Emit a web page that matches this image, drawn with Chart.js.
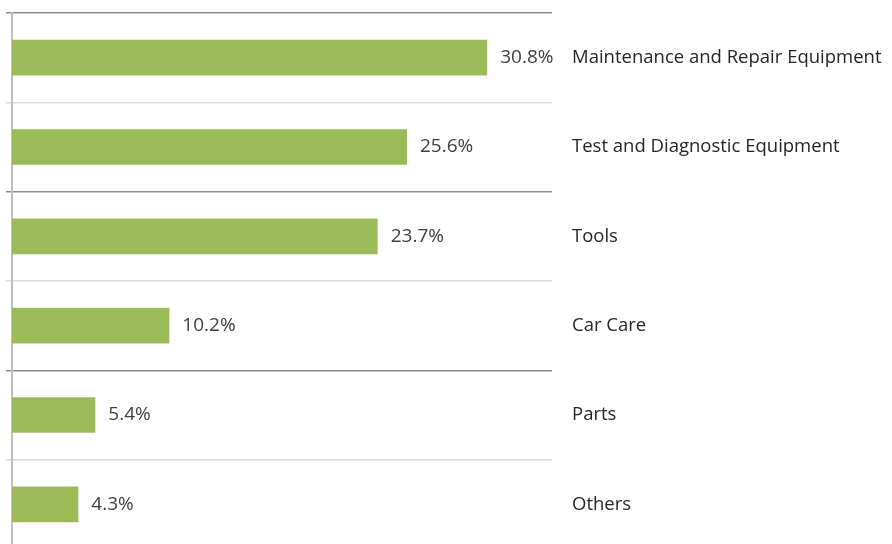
<!DOCTYPE html>
<html>
<head>
<meta charset="utf-8">
<script src="https://cdn.jsdelivr.net/npm/chart.js@4"></script>
<style>
  html, body { margin: 0; padding: 0; background: #fff; overflow: hidden; }
  #wrap { width: 892px; height: 544px; overflow: hidden; }
</style>
</head>
<body>
<div id="wrap"><canvas id="chart" width="892" height="560"></canvas></div>
<script>
// data
const categories = ['Maintenance and Repair Equipment', 'Test and Diagnostic Equipment', 'Tools', 'Car Care', 'Parts', 'Others'];
const shares = [30.8, 25.6, 23.7, 10.2, 5.4, 4.3];
const xMin = 0;
const xMax = 35;

const FONT = "'Open Sans', 'Liberation Sans', sans-serif";

// value labels just after each bar
const valueLabels = {
  id: 'valueLabels',
  afterDatasetsDraw(chart) {
    const ctx = chart.ctx;
    const meta = chart.getDatasetMeta(0);
    ctx.save();
    ctx.font = '19px ' + FONT;
    ctx.fillStyle = '#404040';
    ctx.textAlign = 'left';
    ctx.textBaseline = 'middle';
    meta.data.forEach((bar, i) => {
      ctx.fillText(shares[i].toFixed(1) + '%', bar.x + 13, bar.y);
    });
    ctx.restore();
  }
};

new Chart(document.getElementById('chart'), {
  type: 'bar',
  data: {
    labels: categories,
    datasets: [{
      data: shares,
      backgroundColor: '#9BBB59',
      borderWidth: 0,
      categoryPercentage: 1,
      barPercentage: 0.4
    }]
  },
  options: {
    indexAxis: 'y',
    responsive: false,
    animation: false,
    layout: { padding: { left: 6, top: 13, right: 0, bottom: 11 } },
    plugins: {
      legend: { display: false },
      tooltip: { enabled: false }
    },
    scales: {
      x: {
        display: false,
        min: xMin,
        max: xMax
      },
      y: {
        position: 'left',
        ticks: { display: false },
        grid: {
          offset: true,
          drawTicks: true,
          tickLength: 6,
          lineWidth: 1.5,
          color: c => (c.index % 2 === 0 ? '#8c8c8c' : '#d9d9d9')
        },
        border: { display: true, color: '#bfbfbf', width: 2 },
        afterFit: s => { s.paddingTop = 0; s.paddingBottom = 0; }
      },
      y2: {
        type: 'category',
        position: 'right',
        labels: categories,
        offset: true,
        grid: { display: false, drawTicks: false },
        border: { display: false },
        ticks: {
          padding: 20,
          color: '#262626',
          font: { family: FONT, size: 18.5 }
        },
        afterFit: s => { s.width = 340; s.paddingTop = 0; s.paddingBottom = 0; }
      }
    }
  },
  plugins: [valueLabels]
});
</script>
</body>
</html>
